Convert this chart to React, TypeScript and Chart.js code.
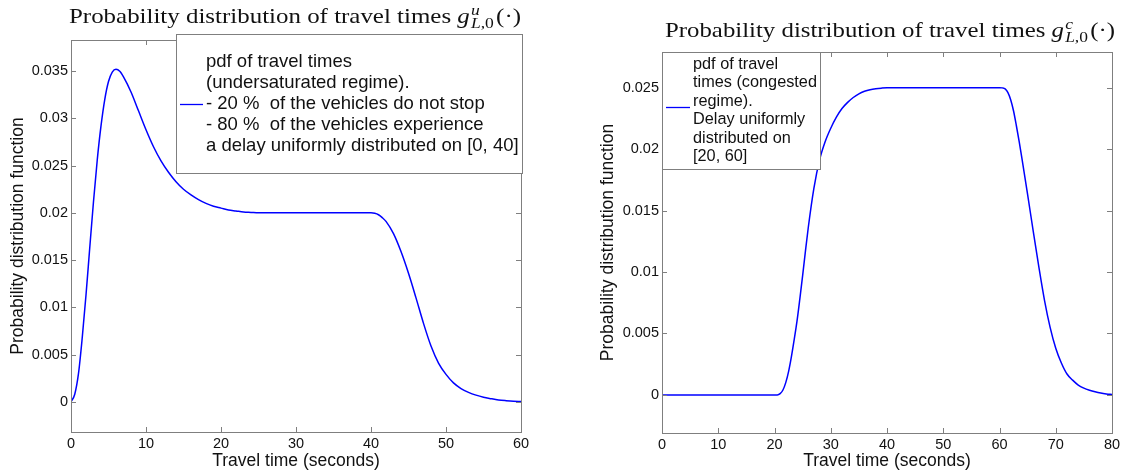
import React, { useEffect, useRef } from 'react';
import { Chart, registerables } from 'chart.js';

Chart.register(...registerables);

// ---------------- data ----------------
const tLeft = [0, 0.5, 1, 1.5, 2, 2.5, 3, 3.5, 4, 4.5, 5, 5.5, 6, 6.5, 7, 8, 9, 10, 11, 12, 13, 14, 15, 16, 17, 18, 19, 20, 21, 22, 23, 24, 25, 30, 35, 40, 40.5, 41, 41.5, 42, 43, 44, 45, 46, 47, 48, 49, 50, 51, 52, 53, 54, 55, 56, 57, 58, 59, 60];
const pdfLeft = [0, 0.0008, 0.003, 0.0068, 0.0113, 0.0163, 0.0212, 0.0256, 0.0292, 0.032, 0.0339, 0.0349, 0.0352, 0.035, 0.0344, 0.0328, 0.0308, 0.0288, 0.027, 0.0255, 0.0243, 0.0233, 0.0225, 0.0219, 0.0214, 0.021, 0.0207, 0.0205, 0.0203, 0.0202, 0.0201, 0.02005, 0.02, 0.02, 0.02, 0.02, 0.01995, 0.0198, 0.0195, 0.0191, 0.0178, 0.0159, 0.0136, 0.0110, 0.0083, 0.0059, 0.0041, 0.0029, 0.002, 0.0014, 0.001, 0.0007, 0.00048, 0.00033, 0.0002, 0.00012, 0.00006, 0.00003];

const tRight = [0, 20, 20.5, 21, 21.5, 22, 22.5, 23, 23.5, 24, 24.5, 25, 25.5, 26, 27, 28, 29, 30, 31, 32, 33, 34, 35, 36, 37, 38, 39, 40, 45, 50, 55, 60, 60.5, 61, 61.5, 62, 62.5, 63, 63.5, 64, 65, 66, 67, 68, 69, 70, 71, 72, 73, 74, 75, 76, 77, 78, 79, 80];
const pdfRight = [0, 0, 0, 0.0001, 0.0004, 0.001, 0.0019, 0.0031, 0.0045, 0.006, 0.0078, 0.0097, 0.0117, 0.0136, 0.0168, 0.0191, 0.0206, 0.0217, 0.0226, 0.0233, 0.0238, 0.0242, 0.0245, 0.0247, 0.02483, 0.02491, 0.02496, 0.02499, 0.025, 0.025, 0.025, 0.025, 0.02498, 0.0249, 0.0246, 0.024, 0.0231, 0.0219, 0.0206, 0.0192, 0.0163, 0.0133, 0.0104, 0.0077, 0.0055, 0.0038, 0.0026, 0.0017, 0.0012, 0.0008, 0.00055, 0.00038, 0.00025, 0.00015, 0.00008, 0.00003];

const xTicksLeft = [0, 10, 20, 30, 40, 50, 60];
const xTicksRight = [0, 10, 20, 30, 40, 50, 60, 70, 80];
const yTicksLeft = [0, 0.005, 0.01, 0.015, 0.02, 0.025, 0.03, 0.035];
const yTickLabelsLeft = ['0', '0.005', '0.01', '0.015', '0.02', '0.025', '0.03', '0.035'];
const yTicksRight = [0, 0.005, 0.01, 0.015, 0.02, 0.025];
const yTickLabelsRight = ['0', '0.005', '0.01', '0.015', '0.02', '0.025'];

const legendLeft = [
  'pdf of travel times',
  '(undersaturated regime).',
  '- 20 %  of the vehicles do not stop',
  '- 80 %  of the vehicles experience',
  'a delay uniformly distributed on [0, 40]',
];
const legendRight = [
  'pdf of travel',
  'times (congested',
  'regime).',
  'Delay uniformly',
  'distributed on',
  '[20, 60]',
];

const xTitle = 'Travel time (seconds)';
const yTitle = 'Probability distribution function';
const titleMain = 'Probability distribution of travel times ';

// ---------------- styling ----------------
const SANS = '"Liberation Sans", Arial, Helvetica, sans-serif';
const SERIF = '"Liberation Serif", "Times New Roman", serif';
const AXIS = '#7f7f7f';
const TEXT = '#111111';
const LINE = '#0000ff';
const TICK = 5;

Chart.defaults.font.family = SANS;

type Decor = {
  xTicks: number[];
  yTicks: number[];
  legend: string[];
  legendBox: { x: number; y: number; w: number; h: number };
  legendFont: number;
  legendLineH: number;
  legendLineIdx: number;
  sampleX0: number;
  sampleX1: number;
  textX: number;
  titleSup: string;
  titleCx: number;
  titleBase: number;
  titleWidth: number;
};

function drawTitle(ctx: CanvasRenderingContext2D, d: Decor) {
  const size = 22;
  const small = 15.5;
  ctx.font = `${size}px ${SERIF}`;
  const wMain = ctx.measureText(titleMain).width;
  ctx.font = `italic ${size}px ${SERIF}`;
  const wg = ctx.measureText('g').width;
  ctx.font = `italic ${small}px ${SERIF}`;
  const wSup = ctx.measureText(d.titleSup).width;
  const wL = ctx.measureText('L').width;
  ctx.font = `${small}px ${SERIF}`;
  const wSub2 = ctx.measureText(',0').width;
  const wSub = wL + wSub2;
  ctx.font = `${size}px ${SERIF}`;
  const wParen = ctx.measureText('(\u00B7)').width;
  const total = wMain + wg + 1 + Math.max(wSup, wSub) + 2 + wParen;
  const sc = d.titleWidth / total;
  ctx.save();
  ctx.translate(d.titleCx - d.titleWidth / 2, d.titleBase);
  ctx.scale(sc, 1);
  ctx.fillStyle = TEXT;
  ctx.textBaseline = 'alphabetic';
  ctx.textAlign = 'left';
  let x = 0;
  ctx.font = `${size}px ${SERIF}`;
  ctx.fillText(titleMain, x, 0);
  x += wMain;
  ctx.font = `italic ${size}px ${SERIF}`;
  ctx.fillText('g', x, 0);
  x += wg + 1;
  ctx.font = `italic ${small}px ${SERIF}`;
  ctx.fillText(d.titleSup, x, -8);
  ctx.fillText('L', x, 5);
  ctx.font = `${small}px ${SERIF}`;
  ctx.fillText(',0', x + wL, 5);
  x += Math.max(wSup, wSub) + 2;
  ctx.font = `${size}px ${SERIF}`;
  ctx.fillText('(\u00B7)', x, 0);
  ctx.restore();
}

function makeDecor(d: Decor) {
  return {
    id: 'decor',
    afterDraw(chart: any) {
      const { ctx, chartArea: a, scales } = chart;
      const xs = scales.x;
      const ys = scales.y;
      ctx.save();
      ctx.strokeStyle = AXIS;
      ctx.lineWidth = 1;
      ctx.beginPath();
      d.xTicks.forEach((v) => {
        const px = Math.round(xs.getPixelForValue(v)) + 0.5;
        ctx.moveTo(px, a.bottom);
        ctx.lineTo(px, a.bottom - TICK);
        ctx.moveTo(px, a.top);
        ctx.lineTo(px, a.top + TICK);
      });
      d.yTicks.forEach((v) => {
        const py = Math.round(ys.getPixelForValue(v)) + 0.5;
        ctx.moveTo(a.left, py);
        ctx.lineTo(a.left + TICK, py);
        ctx.moveTo(a.right, py);
        ctx.lineTo(a.right - TICK, py);
      });
      ctx.stroke();
      ctx.strokeRect(Math.round(a.left) + 0.5, Math.round(a.top) + 0.5, Math.round(a.width), Math.round(a.height));

      const b = d.legendBox;
      ctx.fillStyle = '#ffffff';
      ctx.fillRect(b.x, b.y, b.w, b.h);
      ctx.strokeStyle = AXIS;
      ctx.strokeRect(b.x + 0.5, b.y + 0.5, b.w, b.h);
      const n = d.legend.length;
      const mid = b.y + b.h / 2;
      const first = mid - ((n - 1) / 2) * d.legendLineH;
      ctx.font = `${d.legendFont}px ${SANS}`;
      ctx.fillStyle = TEXT;
      ctx.textBaseline = 'middle';
      ctx.textAlign = 'left';
      d.legend.forEach((s, i) => ctx.fillText(s, d.textX, first + i * d.legendLineH));
      ctx.strokeStyle = LINE;
      ctx.lineWidth = 1.3;
      ctx.beginPath();
      const ly = Math.round(first + d.legendLineIdx * d.legendLineH) + 0.5;
      ctx.moveTo(d.sampleX0, ly);
      ctx.lineTo(d.sampleX1, ly);
      ctx.stroke();
      ctx.restore();

      drawTitle(ctx, d);
    },
  };
}

function buildConfig(opts: {
  t: number[];
  v: number[];
  xMax: number;
  yMin: number;
  yMax: number;
  xTicks: number[];
  yTicks: number[];
  yLabels: string[];
  pad: { left: number; right: number; top: number };
  yAxisW: number;
  xAxisH: number;
  yTitlePad: number;
  decor: Decor;
}) {
  return {
    type: 'line' as const,
    data: {
      datasets: [
        {
          data: opts.t.map((t, i) => ({ x: t, y: opts.v[i] })),
          borderColor: LINE,
          borderWidth: 1.5,
          pointRadius: 0,
          fill: false,
          cubicInterpolationMode: 'monotone' as const,
        },
      ],
    },
    options: {
      animation: false as const,
      responsive: false,
      maintainAspectRatio: false,
      layout: { padding: { left: opts.pad.left, right: opts.pad.right, top: opts.pad.top, bottom: 0 } },
      plugins: { legend: { display: false }, title: { display: false }, tooltip: { enabled: false } },
      scales: {
        x: {
          type: 'linear' as const,
          min: 0,
          max: opts.xMax,
          afterBuildTicks: (s: any) => {
            s.ticks = opts.xTicks.map((value) => ({ value }));
          },
          afterFit: (s: any) => {
            s.height = opts.xAxisH;
          },
          grid: { display: false, drawTicks: false },
          border: { display: false },
          ticks: {
            padding: 3,
            autoSkip: false,
            maxRotation: 0,
            color: TEXT,
            font: { size: 14.5, family: SANS },
            callback: (v: any) => String(v),
          },
          title: {
            display: true,
            text: xTitle,
            color: TEXT,
            font: { size: 17.5, family: SANS },
            padding: { top: 0, bottom: 3.5 },
          },
        },
        y: {
          type: 'linear' as const,
          min: opts.yMin,
          max: opts.yMax,
          afterBuildTicks: (s: any) => {
            s.ticks = opts.yTicks.map((value) => ({ value }));
          },
          afterFit: (s: any) => {
            s.width = opts.yAxisW;
          },
          grid: { display: false, drawTicks: false },
          border: { display: false },
          ticks: {
            padding: 3,
            autoSkip: false,
            color: TEXT,
            font: { size: 14.5, family: SANS },
            callback: (_v: any, i: number) => opts.yLabels[i],
          },
          title: {
            display: true,
            text: yTitle,
            color: TEXT,
            font: { size: 17.5, family: SANS },
            padding: { top: opts.yTitlePad, bottom: 0 },
          },
        },
      },
    },
    plugins: [makeDecor(opts.decor)],
  };
}

function ChartCanvas({ config }: { config: any }) {
  const ref = useRef<HTMLCanvasElement | null>(null);
  useEffect(() => {
    if (!ref.current) return;
    const chart = new Chart(ref.current, config);
    return () => chart.destroy();
  }, [config]);
  return <canvas ref={ref} width={562} height={475} style={{ width: 562, height: 475, display: 'block' }} />;
}

const leftConfig = buildConfig({
  t: tLeft,
  v: pdfLeft,
  xMax: 60,
  yMin: -0.0032,
  yMax: 0.0383,
  xTicks: xTicksLeft,
  yTicks: yTicksLeft,
  yLabels: yTickLabelsLeft,
  pad: { left: 0, right: 41, top: 40 },
  yAxisW: 71,
  xAxisH: 43,
  yTitlePad: 7.5,
  decor: {
    xTicks: xTicksLeft,
    yTicks: yTicksLeft,
    legend: legendLeft,
    legendBox: { x: 176, y: 34, w: 346, h: 139 },
    legendFont: 18.5,
    legendLineH: 21,
    legendLineIdx: 2,
    sampleX0: 180,
    sampleX1: 203,
    textX: 206,
    titleSup: 'u',
    titleCx: 295,
    titleBase: 22.5,
    titleWidth: 452,
  },
});

const rightConfig = buildConfig({
  t: tRight,
  v: pdfRight,
  xMax: 80,
  yMin: -0.0031,
  yMax: 0.0279,
  xTicks: xTicksRight,
  yTicks: yTicksRight,
  yLabels: yTickLabelsRight,
  pad: { left: 0, right: 12, top: 52 },
  yAxisW: 100,
  xAxisH: 42,
  yTitlePad: 35.5,
  decor: {
    xTicks: xTicksRight,
    yTicks: yTicksRight,
    legend: legendRight,
    legendBox: { x: 100, y: 52, w: 158, h: 117 },
    legendFont: 16.3,
    legendLineH: 18.5,
    legendLineIdx: 2.3,
    sampleX0: 104,
    sampleX1: 128,
    textX: 131,
    titleSup: 'c',
    titleCx: 328,
    titleBase: 37,
    titleWidth: 450,
  },
});

export default function App() {
  return (
    <div style={{ position: 'absolute', left: 0, top: 0, width: 1124, height: 475, background: '#ffffff' }}>
      <div style={{ position: 'absolute', left: 0, top: 0, width: 562, height: 475 }}>
        <ChartCanvas config={leftConfig} />
      </div>
      <div style={{ position: 'absolute', left: 562, top: 0, width: 562, height: 475 }}>
        <ChartCanvas config={rightConfig} />
      </div>
    </div>
  );
}
